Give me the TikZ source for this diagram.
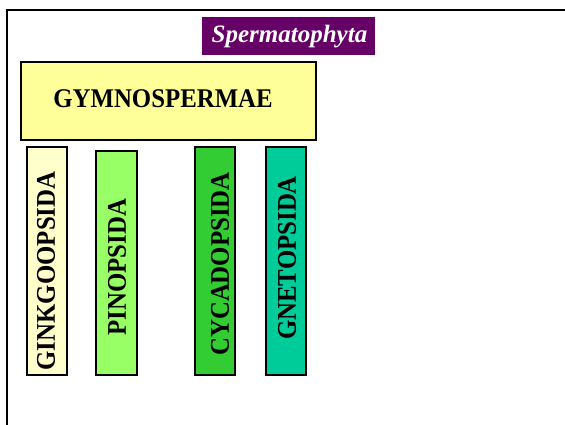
\documentclass[tikz,border=0pt]{standalone}
\usepackage{fontspec}
\setmainfont{Liberation Serif}
\usepackage{graphicx}
\definecolor{purp}{HTML}{660066}
\definecolor{gymfill}{HTML}{FFFF99}
\definecolor{ginkfill}{HTML}{FFFFCC}
\definecolor{pinfill}{HTML}{99FF66}
\definecolor{cycfill}{HTML}{33CC33}
\definecolor{gnefill}{HTML}{00CC99}
\newcommand{\narrow}[1]{\scalebox{0.92}[1]{#1}}
\begin{document}
\begin{tikzpicture}[x=1pt,y=-1pt,
  classbox/.style={draw=black,line width=2.5pt,inner sep=0pt},
  classlabel/.style={rotate=90,font=\fontsize{27}{27}\selectfont\bfseries,inner sep=0pt}]
\useasboundingbox (0,0) rectangle (565,425);
\fill[white] (0,0) rectangle (565,425);
% frame
\draw[line width=2pt] (7,425) -- (7,10) -- (565,10);
% title
\fill[purp] (202,17) rectangle (375,55);
\node[text=white,font=\fontsize{25}{25}\selectfont\bfseries\itshape,inner sep=0pt] (title) at (289.5,37) {Spermatophyta};
% gymnospermae
\draw[fill=gymfill,line width=2.5pt] (21,62) rectangle (316,140);
\node[font=\fontsize{27}{27}\selectfont\bfseries,inner sep=0pt] (gym) at (163,99) {\narrow{GYMNOSPERMAE}};
% classes
\draw[classbox,fill=ginkfill] (27,147) rectangle (67,375);
\node[classlabel] (gink) at (46,271) {\narrow{GINKGOOPSIDA}};
\draw[classbox,fill=pinfill] (96,151) rectangle (137,375);
\node[classlabel] (pin) at (117,267) {\narrow{PINOPSIDA}};
\draw[classbox,fill=cycfill] (195,147) rectangle (235,375);
\node[classlabel] (cyc) at (220,264) {\narrow{CYCADOPSIDA}};
\draw[classbox,fill=gnefill] (266,147) rectangle (306,375);
\node[classlabel] (gne) at (287,258) {\narrow{GNETOPSIDA}};
\end{tikzpicture}
\end{document}
